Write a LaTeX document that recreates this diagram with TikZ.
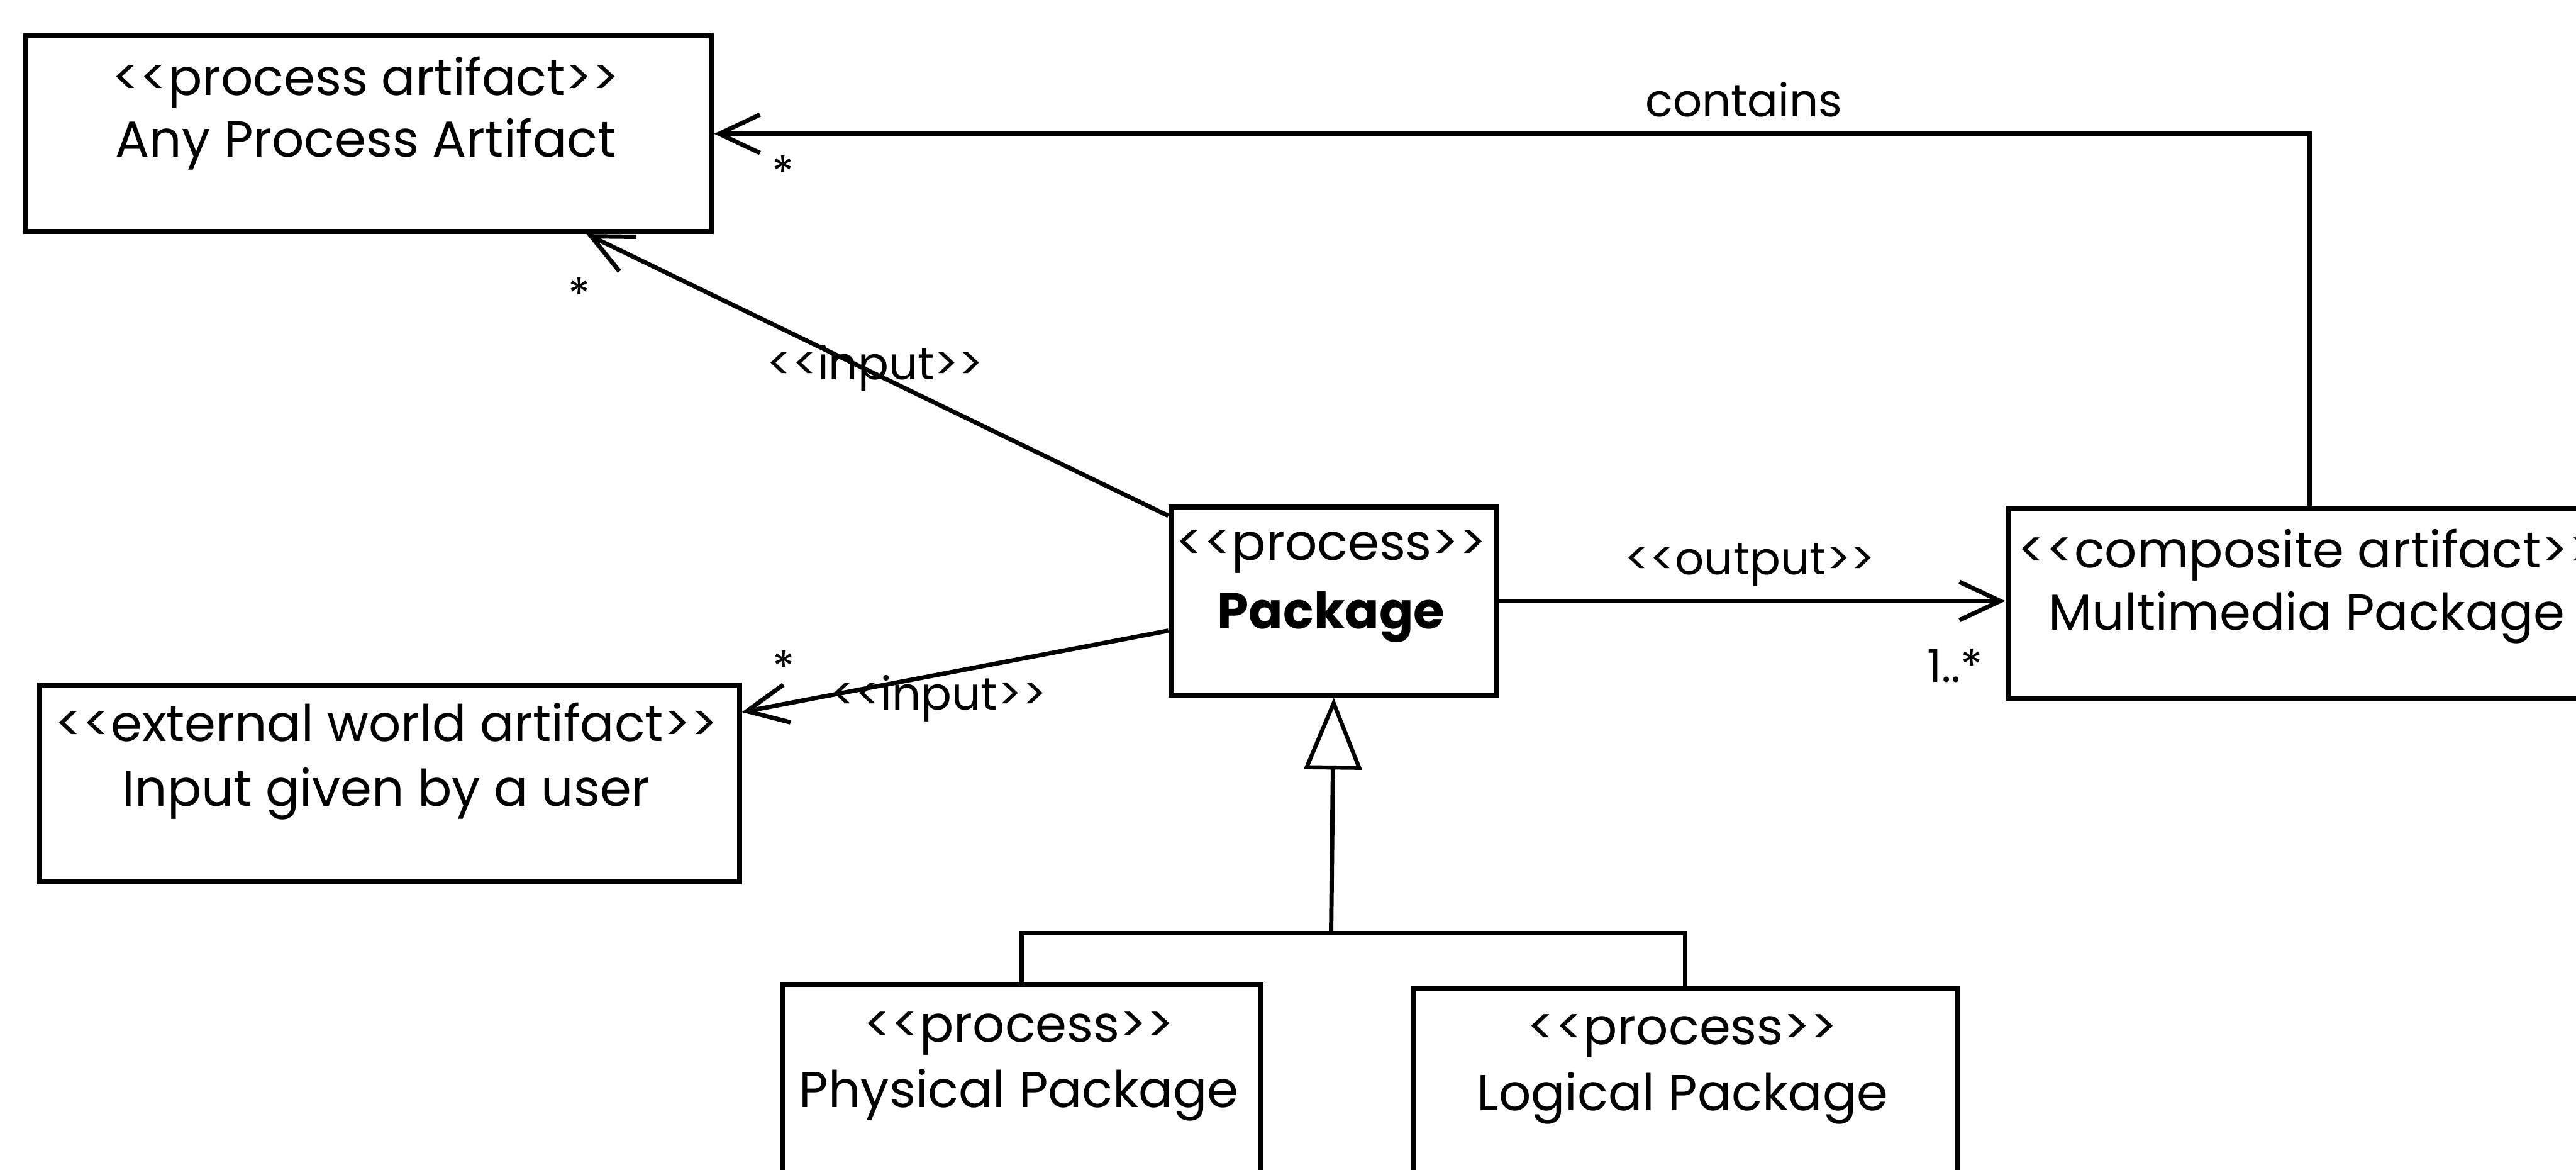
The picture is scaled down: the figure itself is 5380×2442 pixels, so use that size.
\documentclass[tikz,border=0pt]{standalone}
\usepackage{fontspec}
\newfontfamily\popp{Poppins}
\usetikzlibrary{arrows.meta,calc}
\begin{document}
\begin{tikzpicture}[x=0.01cm,y=-0.01cm,
  umlbox/.style={draw=black,line width=3pt,inner sep=0pt,anchor=north west},
  boxtext/.style={font=\popp\fontsize{30}{36}\selectfont,anchor=base,inner sep=0pt},
  lbl/.style={font=\popp\fontsize{27}{32}\selectfont,anchor=base,inner sep=0pt},
  conn/.style={draw=black,line width=2.6pt},
  nav/.style={conn,-{Straight Barb[length=0.85cm,width=0.8cm]}},
  gen/.style={conn,-{Triangle[open,length=1.5cm,width=1.2cm,line width=2.4pt]}}]
\fill[white] (0,0) rectangle (5380,2442);
\useasboundingbox (0,0) rectangle (5380,2442);

% boxes
\node[umlbox,minimum width=14.31cm,minimum height=4.08cm] (apa) at (49,70) {};
\node[umlbox,minimum width=6.80cm,minimum height=3.93cm] (pkg) at (2440,1053) {};
\node[umlbox,minimum width=12.60cm,minimum height=3.97cm] (mm) at (4188,1056) {};
\node[umlbox,minimum width=14.61cm,minimum height=4.11cm] (ext) at (77,1425) {};
\node[umlbox,minimum width=9.98cm,minimum height=5.50cm] (phys) at (1629,2050) {};
\node[umlbox,minimum width=11.36cm,minimum height=5.41cm] (log) at (2946,2059) {};

% box texts
\node[boxtext] (apa1) at (764,199) {<<process artifact>>};
\node[boxtext] (apa2) at (764,328) {Any Process Artifact};
\node[boxtext] (pkg1) at (2780,1170) {<<process>>};
\node[boxtext] (pkg2) at (2780,1313) {\bfseries Package};
\node[boxtext] (mm1) at (4818,1186) {<<composite artifact>>};
\node[boxtext] (mm2) at (4818,1315) {Multimedia Package};
\node[boxtext] (ext1) at (807,1548) {<<external world artifact>>};
\node[boxtext] (ext2) at (807,1683) {Input given by a user};
\node[boxtext] (phys1) at (2128,2176) {<<process>>};
\node[boxtext] (phys2) at (2128,2312) {Physical Package};
\node[boxtext] (log1) at (3514,2181) {<<process>>};
\node[boxtext] (log2) at (3514,2319) {Logical Package};

% connectors
\coordinate (in1s) at ($(pkg.north west)+(0,24)$);
\coordinate (in1e) at ($(apa.south west)+(1176,0)$);
\draw[nav] (in1s) -- (in1e);
\coordinate (in2s) at ($(pkg.west)+(0,62)$);
\coordinate (in2e) at ($(ext.north east)+(0,62)$);
\draw[nav] (in2s) -- (in2e);
\draw[nav] (pkg.east) -- (pkg.east -| mm.west);
\draw[nav] (mm.north) |- (apa.east);
\coordinate (bar) at (2780,1949);
\draw[conn] (phys.north) |- (bar) -| (log.north);
\draw[gen] (bar) -- (pkg.south);

% labels
\node[lbl] (lcont) at (3642,243) {contains};
\node[lbl] (lin1) at (1828,793) {<<input>>};
\node[lbl] (lin2) at (1960,1482) {<<input>>};
\node[lbl] (lout) at (3655,1200) {<<output>>};
\node[lbl,anchor=center] (m1) at (1635,360) {*};
\node[lbl,anchor=center] (m2) at (1210,615) {*};
\node[lbl,anchor=center] (m3) at (1637,1394) {*};
\node[lbl,anchor=center] (m4) at (4083,1390) {1..*};
\end{tikzpicture}
\end{document}
